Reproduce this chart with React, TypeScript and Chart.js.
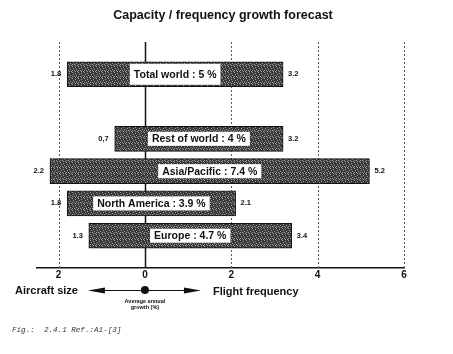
import React, { useEffect, useRef } from "react";
import { Chart, registerables } from "chart.js";

Chart.register(...registerables);

const titleText = "Capacity / frequency growth forecast";
const regions = ["Total world", "Rest of world", "Asia/Pacific", "North America", "Europe"];
const sizeGrowth = [1.8, 0.7, 2.2, 1.8, 1.3];
const freqGrowth = [3.2, 3.2, 5.2, 2.1, 3.4];
const avgGrowth = ["5", "4", "7.4", "3.9", "4.7"];
const sizeLabels = ["1.8", "0,7", "2.2", "1.8", "1.3"];
const freqLabels = ["3.2", "3.2", "5.2", "2.1", "3.4"];
const xTicks = [-2, 0, 2, 4, 6];
const leftCaption = "Aircraft size";
const rightCaption = "Flight frequency";
const centerCaption = ["Average annual", "growth (%)"];
const figCaption = "Fig.:  2.4.1 Ref.:A1-[3]";

// category slots: blank, Total world, blank, then the four regions, blank
const slotOf = [1, 3, 4, 5, 6];
const categories = ["", regions[0], "", regions[1], regions[2], regions[3], regions[4], ""];

function makePattern(): CanvasPattern | string {
  const c = document.createElement("canvas");
  c.width = 6;
  c.height = 6;
  const g = c.getContext("2d");
  if (!g) return "#555";
  g.fillStyle = "#3a3a3a";
  g.fillRect(0, 0, 6, 6);
  g.fillStyle = "#9c9c9c";
  const pts = [[0, 0], [3, 1], [1, 2], [4, 3], [2, 4], [5, 5], [0, 4], [3, 5]];
  pts.forEach(([x, y]) => g.fillRect(x, y, 1, 1));
  const p = g.createPattern(c, "repeat");
  return p || "#555";
}

const SANS = "'Liberation Sans', Arial, sans-serif";

const overlay = {
  id: "overlay",
  beforeDatasetsDraw(chart: any) {
    const { ctx, chartArea, scales } = chart;
    const x = scales.x;
    ctx.save();
    xTicks.forEach((v) => {
      const px = Math.round(x.getPixelForValue(v)) + 0.5;
      ctx.beginPath();
      if (v === 0) {
        ctx.setLineDash([]);
        ctx.strokeStyle = "#111";
        ctx.lineWidth = 1.5;
      } else {
        ctx.setLineDash([2, 2]);
        ctx.strokeStyle = "#555";
        ctx.lineWidth = 1;
      }
      ctx.moveTo(px, chartArea.top);
      ctx.lineTo(px, chartArea.bottom);
      ctx.stroke();
    });
    ctx.restore();
  },
  afterDraw(chart: any) {
    const { ctx, scales } = chart;
    const x = scales.x;
    const y = scales.y;
    ctx.save();
    ctx.setLineDash([]);
    // title
    ctx.fillStyle = "#111";
    ctx.font = `bold 12.5px ${SANS}`;
    ctx.textAlign = "center";
    ctx.textBaseline = "middle";
    ctx.fillText(titleText, 223, 16);

    // bar labels
    regions.forEach((r, i) => {
      const py = y.getPixelForValue(slotOf[i]);
      const lo = -sizeGrowth[i];
      const hi = freqGrowth[i];
      const x0 = x.getPixelForValue(lo);
      const x1 = x.getPixelForValue(hi);
      const mid = x.getPixelForValue((lo + hi) / 2);
      const txt = `${r} : ${avgGrowth[i]} %`;
      ctx.font = `bold 10.5px ${SANS}`;
      const w = ctx.measureText(txt).width;
      const bh = i === 0 ? 21 : 14;
      ctx.fillStyle = "#fff";
      ctx.fillRect(mid - w / 2 - 4, py - bh / 2, w + 8, bh);
      ctx.fillStyle = "#111";
      ctx.textAlign = "center";
      ctx.fillText(txt, mid, py + 0.5);
      ctx.font = `bold 7.5px ${SANS}`;
      ctx.textAlign = "right";
      ctx.fillText(sizeLabels[i], x0 - 6, py);
      ctx.textAlign = "left";
      ctx.fillText(freqLabels[i], x1 + 5, py);
    });

    // bottom legend
    const ay = 290;
    ctx.fillStyle = "#111";
    ctx.font = `bold 11px ${SANS}`;
    ctx.textAlign = "left";
    ctx.fillText(leftCaption, 15, ay + 1);
    ctx.fillText(rightCaption, 213, ay + 2);
    const cx = x.getPixelForValue(0);
    ctx.strokeStyle = "#111";
    ctx.lineWidth = 1;
    ctx.beginPath();
    ctx.moveTo(cx - 50, ay + 0.5);
    ctx.lineTo(cx + 50, ay + 0.5);
    ctx.stroke();
    ctx.beginPath();
    ctx.moveTo(cx - 57, ay + 0.5);
    ctx.lineTo(cx - 40, ay - 2.5);
    ctx.lineTo(cx - 40, ay + 3.5);
    ctx.closePath();
    ctx.fill();
    ctx.beginPath();
    ctx.moveTo(cx + 56, ay + 0.5);
    ctx.lineTo(cx + 39, ay - 2.5);
    ctx.lineTo(cx + 39, ay + 3.5);
    ctx.closePath();
    ctx.fill();
    ctx.beginPath();
    ctx.arc(cx, ay, 4, 0, Math.PI * 2);
    ctx.fill();
    ctx.font = `bold 5.5px ${SANS}`;
    ctx.textAlign = "center";
    ctx.fillText(centerCaption[0], cx, ay + 11);
    ctx.fillText(centerCaption[1], cx, ay + 17);

    // figure caption
    ctx.fillStyle = "#333";
    ctx.font = `italic 7.6px 'Liberation Mono', 'DejaVu Sans Mono', monospace`;
    ctx.textAlign = "left";
    ctx.fillText(figCaption, 12, 330);
    ctx.restore();
  },
};

export default function App() {
  const ref = useRef<HTMLCanvasElement | null>(null);
  useEffect(() => {
    document.body.style.margin = "0";
    const canvas = ref.current;
    if (!canvas) return;
    const data: any[] = categories.map(() => null);
    regions.forEach((_, i) => {
      data[slotOf[i]] = [-sizeGrowth[i], freqGrowth[i]];
    });
    const chart = new Chart(canvas, {
      type: "bar",
      data: {
        labels: categories,
        datasets: [
          {
            data,
            backgroundColor: makePattern() as any,
            borderColor: "#111",
            borderWidth: 1,
            borderSkipped: false,
            barThickness: 25,
          },
        ],
      },
      plugins: [overlay],
      options: {
        indexAxis: "y",
        animation: false,
        responsive: false,
        maintainAspectRatio: false,
        layout: { padding: { left: 37, right: 49, top: 42, bottom: 72 } },
        plugins: {
          legend: { display: false },
          tooltip: { enabled: false },
          title: { display: false },
        },
        scales: {
          x: {
            type: "linear",
            min: -2.5,
            max: 6,
            afterBuildTicks: (s: any) => {
              s.ticks = xTicks.map((v) => ({ value: v }));
            },
            afterFit: (s: any) => {
              s.paddingLeft = 0;
              s.paddingRight = 0;
            },
            grid: { display: false, drawTicks: false },
            border: { display: true, color: "#111", width: 1.5 },
            ticks: {
              color: "#111",
              padding: 1,
              font: { family: SANS, size: 10, weight: "bold" },
              callback: (v: any) => String(Math.abs(Number(v))),
            },
          },
          y: {
            type: "category",
            offset: false,
            display: false,
            grid: { display: false },
          },
        },
      } as any,
    });
    return () => chart.destroy();
  }, []);
  return (
    <div style={{ position: "fixed", left: 0, top: 0, width: 453, height: 354, background: "#fff" }}>
      <canvas ref={ref} width={453} height={354} style={{ width: 453, height: 354 }} />
    </div>
  );
}
